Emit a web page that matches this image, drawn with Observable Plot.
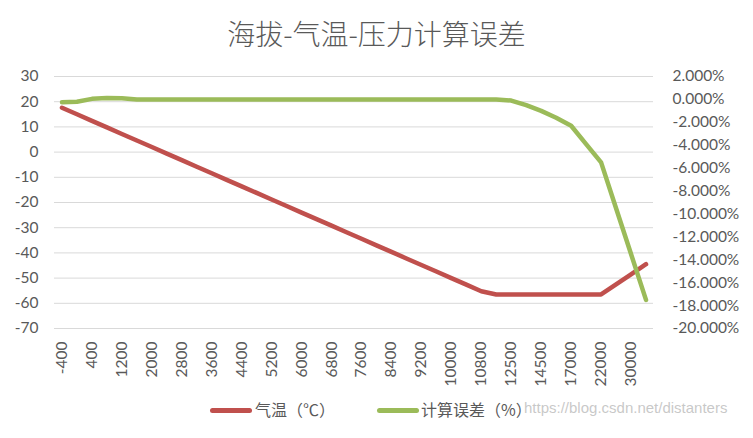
<!DOCTYPE html>
<html>
<head>
<meta charset="utf-8">
<script src="https://cdn.jsdelivr.net/npm/d3@7"></script>
<script src="https://cdn.jsdelivr.net/npm/@observablehq/plot@0.6"></script>
<style>
  html, body { margin: 0; padding: 0; background: #fff; }
  #wrap { position: relative; width: 753px; height: 438px; overflow: hidden; background: #fff; }
  #title { position: absolute; left: 0; top: 13px; width: 753px; text-align: center;
           font-family: "Noto Sans CJK SC", sans-serif; font-size: 28px; font-weight: 300; color: #595959; }
  #chart { position: absolute; left: 0; top: 60px; }
  .leg { position: absolute; top: 398px; height: 22px; line-height: 22px; font-family: "Noto Sans CJK SC", sans-serif; font-size: 16px; color: #595959; white-space: nowrap; }
  .sw { position: absolute; height: 5px; border-radius: 2.5px; top: 408px; }
  #wm { position: absolute; left: 524px; top: 399px; font-family: "Liberation Sans", Arial, sans-serif; font-size: 15px; color: rgba(190,190,190,0.85); white-space: nowrap; }
</style>
</head>
<body>
<div id="wrap">
  <div id="title">海拔-气温-压力计算误差</div>
  <div id="chart"></div>
  <div class="sw" style="left:210px;width:42px;background:#c0504d"></div>
  <div class="leg" style="left:255px">气温（℃）</div>
  <div class="sw" style="left:377px;width:42px;background:#9bbb59"></div>
  <div class="leg" style="left:421px">计算误差（%）</div>
  <div id="wm">https://blog.csdn.net/distanters</div>
</div>
<script>
const categories = ["-400","0","400","800","1200","1600","2000","2400","2800","3200","3600","4000","4400","4800","5200","5600","6000","6400","6800","7200","7600","8000","8400","8800","9200","9600","10000","10400","10800","11000","12500","13500","14500","16000","17000","20000","22000","25000","30000","32000"];

const temperature = [17.6,15,12.4,9.8,7.2,4.6,2,-0.6,-3.2,-5.8,-8.4,-11,-13.6,-16.2,-18.8,-21.4,-24,-26.6,-29.2,-31.8,-34.4,-37,-39.6,-42.2,-44.8,-47.4,-50,-52.6,-55.2,-56.5,-56.5,-56.5,-56.5,-56.5,-56.5,-56.5,-56.5,-52.5,-48.5,-44.5];

const errorPct = [-0.25,-0.2,0.05,0.12,0.1,0,
  0,0,0,0,0,0,0,0,0,0,0,0,0,0,0,0,0,0,0,0,0,0,0,0,
  -0.1,-0.5,-1.0,-1.6,-2.3,-3.9,-5.5,-9.5,-13.5,-17.5];

const xTickLabels = ["-400","400","1200","2000","2800","3600","4400","5200","6000","6800","7600","8400","9200","10000","10800","12500","14500","17000","22000","30000"];
const leftTicks = [30,20,10,0,-10,-20,-30,-40,-50,-60,-70];
const rightTicks = [2,0,-2,-4,-6,-8,-10,-12,-14,-16,-18,-20];

// right axis [-20%, 2%] shares the frame with left axis [-70, 30]
const toLeft = p => -70 + (p + 20) * 100 / 22;
const fromLeft = v => (v + 70) * 22 / 100 - 20;
const fmtPct = v => { let p = Math.round(fromLeft(v) * 1000) / 1000; if (Math.abs(p) < 1e-9) p = 0; return p.toFixed(3) + "%"; };

const tempRows = categories.map((c, i) => ({cat: c, v: temperature[i]}));
const errRows = categories.map((c, i) => ({cat: c, v: errorPct[i]}));

const chart = Plot.plot({
  width: 753,
  height: 332,
  marginLeft: 54,
  marginRight: 100,
  marginTop: 16,
  marginBottom: 64,
  x: {type: "point", domain: categories, padding: 0.5},
  y: {domain: [-70, 30]},
  style: {fontFamily: "Lato, 'Noto Sans CJK SC', sans-serif", color: "#595959", background: "white"},
  marks: [
    Plot.gridY(leftTicks, {stroke: "#d9d9d9", strokeOpacity: 1, strokeWidth: 1}),
    Plot.axisY({ticks: leftTicks, tickSize: 0, tickPadding: 16, fontSize: 15.5, tickFormat: d => String(d), label: null}),
    Plot.axisY({anchor: "right", ticks: rightTicks.map(toLeft), tickSize: 0, tickPadding: 19, fontSize: 15.5, tickFormat: fmtPct, label: null}),
    Plot.axisX({ticks: xTickLabels, tickRotate: -90, tickSize: 0, tickPadding: 13, fontSize: 15.5, tickFormat: d => d, label: null}),
    Plot.line(tempRows, {x: "cat", y: "v", stroke: "#c0504d", strokeWidth: 4.5, strokeLinejoin: "round", strokeLinecap: "round"}),
    Plot.line(errRows, {x: "cat", y: d => toLeft(d.v), stroke: "#9bbb59", strokeWidth: 4.5, strokeLinejoin: "round", strokeLinecap: "round"})
  ]
});
document.getElementById("chart").appendChild(chart);
</script>
</body>
</html>
